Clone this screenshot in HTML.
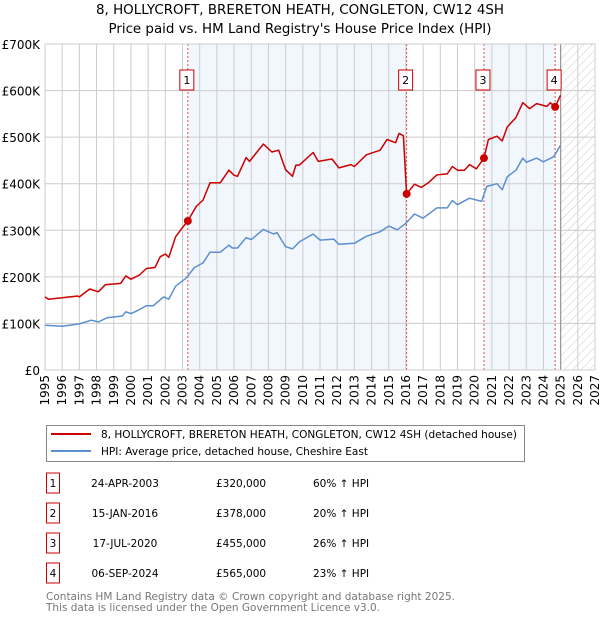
<!DOCTYPE html>
<html><head><meta charset="utf-8">
<style>
body{margin:0;background:#fff;font-family:"Liberation Sans","DejaVu Sans",sans-serif;}
#wrap{position:relative;width:600px;height:620px;overflow:hidden;}
</style></head><body>
<div id="wrap">
<svg id="chart" width="600" height="620" xmlns="http://www.w3.org/2000/svg">
<text x="300" y="14" text-anchor="middle" font-size="13" textLength="408" lengthAdjust="spacingAndGlyphs" font-family="DejaVu Sans, sans-serif">8, HOLLYCROFT, BRERETON HEATH, CONGLETON, CW12 4SH</text>
<text x="300" y="33" text-anchor="middle" font-size="13" textLength="383" lengthAdjust="spacingAndGlyphs" font-family="DejaVu Sans, sans-serif">Price paid vs. HM Land Registry's House Price Index (HPI)</text>
<defs><pattern id="hatch" width="6" height="6" patternUnits="userSpaceOnUse" patternTransform="rotate(45)"><line x1="0" y1="0" x2="0" y2="6" stroke="#ccc" stroke-width="1"/></pattern></defs>
<g id="plot"></g>
<rect x="46.5" y="425.5" width="478" height="36" fill="#fff" stroke="#888"/>
<line x1="51" y1="434" x2="91" y2="434" stroke="#cc0000" stroke-width="2"/>
<text x="101" y="438" font-size="10.5" textLength="416" lengthAdjust="spacingAndGlyphs" font-family="DejaVu Sans, sans-serif">8, HOLLYCROFT, BRERETON HEATH, CONGLETON, CW12 4SH (detached house)</text>
<line x1="51" y1="451" x2="91" y2="451" stroke="#5b8fd0" stroke-width="2"/>
<text x="101" y="455" font-size="10.5" textLength="267" lengthAdjust="spacingAndGlyphs" font-family="DejaVu Sans, sans-serif">HPI: Average price, detached house, Cheshire East</text>
<g id="table" font-size="10.5" font-family="DejaVu Sans, sans-serif"></g>
<text x="46" y="600" font-size="10.5" textLength="409" lengthAdjust="spacingAndGlyphs" fill="#777" font-family="DejaVu Sans, sans-serif">Contains HM Land Registry data © Crown copyright and database right 2025.</text>
<text x="46" y="611" font-size="10.5" textLength="334" lengthAdjust="spacingAndGlyphs" fill="#777" font-family="DejaVu Sans, sans-serif">This data is licensed under the Open Government Licence v3.0.</text>
</svg>
</div>
<script>
const yTicks=[0,100,200,300,400,500,600,700];
const yTickLabels=["£0","£100K","£200K","£300K","£400K","£500K","£600K","£700K"];
const xYears=[1995,1996,1997,1998,1999,2000,2001,2002,2003,2004,2005,2006,2007,2008,2009,2010,2011,2012,2013,2014,2015,2016,2017,2018,2019,2020,2021,2022,2023,2024,2025,2026,2027];
const saleDates=[2003.31,2016.04,2020.54,2024.68];
const saleValues=[320,378,455,565];
const saleLabels=["1","2","3","4"];
const saleDateText=["24-APR-2003","15-JAN-2016","17-JUL-2020","06-SEP-2024"];
const salePriceText=["£320,000","£378,000","£455,000","£565,000"];
const saleHpiText=["60% ↑ HPI","20% ↑ HPI","26% ↑ HPI","23% ↑ HPI"];
const hpiYears=[1995,1996,1997,1997.7,1998.1,1998.6,1999.5,1999.7,2000,2000.4,2000.9,2001.3,2001.9,2002.2,2002.6,2003.2,2003.7,2004.2,2004.6,2005.2,2005.7,2005.9,2006.2,2006.7,2007,2007.7,2008.3,2008.5,2009,2009.4,2009.8,2010.6,2011,2011.8,2012.1,2013,2013.7,2014.5,2015,2015.5,2016,2016.5,2017,2017.8,2018.4,2018.7,2019,2019.7,2020.4,2020.7,2021.3,2021.6,2021.9,2022.4,2022.8,2023,2023.6,2024,2024.6,2025];
const hpiValues=[96,94,99,107,103,112,116,125,121,128,138,138,157,152,180,197,220,230,253,253,268,262,262,284,280,302,292,295,265,260,275,292,279,281,270,272,287,297,309,301,315,335,326,348,348,364,355,369,362,394,400,387,415,429,455,446,455,447,458,483];
const propYears=[1995,1995.2,1996,1996.9,1997,1997.6,1998.1,1998.5,1999.4,1999.7,2000,2000.5,2000.9,2001.4,2001.7,2002,2002.2,2002.6,2003,2003.31,2003.8,2004.2,2004.6,2005.2,2005.7,2006,2006.2,2006.7,2006.9,2007.7,2008.2,2008.6,2009,2009.4,2009.6,2009.8,2010.6,2010.9,2011.7,2012.1,2012.8,2013,2013.7,2014.5,2014.9,2015.4,2015.6,2015.85,2016.04,2016.5,2016.9,2017.3,2017.8,2018.4,2018.7,2019,2019.4,2019.7,2020.1,2020.54,2020.8,2021.3,2021.6,2021.9,2022.4,2022.8,2023.2,2023.6,2024.2,2024.4,2024.68,2025];
const propValues=[157,152,155,159,157,174,168,183,186,202,195,204,218,220,243,249,242,286,306,320,351,365,402,402,429,418,416,456,448,485,468,472,430,416,440,440,467,448,453,434,441,437,462,472,495,488,508,503,378,399,392,402,419,421,437,429,429,441,432,455,495,502,492,522,542,574,561,572,566,574,565,590];

const NS="http://www.w3.org/2000/svg";
const X0=45,X1=595,Y0=370,Y1=44;
const xs=y=>X0+(y-1995)/(2027-1995)*(X1-X0);
const ys=v=>Y0-v/700*(Y0-Y1);
const plot=document.getElementById('plot');
function mk(tag,attrs,parent){const e=document.createElementNS(NS,tag);for(const k in attrs)e.setAttribute(k,attrs[k]);(parent||plot).appendChild(e);return e;}
for(let i=0;i<saleDates.length;i++){
  const end=i+1<saleDates.length?saleDates[i+1]:2025;
  if(i%2===0){const r=mk('rect',{x:xs(saleDates[i]),y:Y1,width:xs(end)-xs(saleDates[i]),height:Y0-Y1,fill:'#eef3fc',opacity:0.75});
  
  }
}
const h=mk('rect',{x:xs(2025),y:Y1,width:X1-xs(2025),height:Y0-Y1,fill:'url(#hatch)'});


yTicks.forEach((v,i)=>{
  const l=mk('line',{x1:X0,x2:X1,y1:ys(v),y2:ys(v),stroke:'#ccc','stroke-width':1});
  
  
  const t=mk('text',{x:40,y:ys(v)+5,'text-anchor':'end','font-size':12,'font-family':'DejaVu Sans, sans-serif'});
  t.textContent=yTickLabels[i];
  
  
});
xYears.forEach(yr=>{
  const l=mk('line',{x1:xs(yr),x2:xs(yr),y1:Y1,y2:Y0,stroke:'#ccc','stroke-width':1});
  
  
  const t=mk('text',{x:0,y:0,'text-anchor':'end','font-size':12,'font-family':'DejaVu Sans, sans-serif',transform:`translate(${xs(yr)+4},375) rotate(-90)`});
  t.textContent=yr;
  
  
});
const vb=mk('line',{x1:xs(2025),x2:xs(2025),y1:Y1,y2:Y0,stroke:'#999','stroke-width':1.2});


saleDates.forEach((d,i)=>{
  const l=mk('line',{x1:xs(d),x2:xs(d),y1:Y1,y2:Y0,stroke:'#e05050','stroke-width':1,'stroke-dasharray':'2,2'});
  
  
  const b=mk('rect',{x:xs(d)-8,y:70,width:14,height:20,fill:'#fff',stroke:'#cc0000','stroke-width':1});
  
  
  const t=mk('text',{x:xs(d)-1,y:84,'text-anchor':'middle','font-size':11,'font-family':'DejaVu Sans, sans-serif'});
  t.textContent=saleLabels[i];
  
  
});
const border=mk('rect',{x:X0,y:Y1,width:X1-X0,height:Y0-Y1,fill:'none',stroke:'#ccc'});


function line(xa,va,color,name){
  const p=mk('polyline',{points:xa.map((x,i)=>xs(x).toFixed(1)+','+ys(va[i]).toFixed(1)).join(' '),fill:'none',stroke:color,'stroke-width':1.5,'stroke-linejoin':'round'});
  
  
}
line(hpiYears,hpiValues,'#5b8fd0','hpi-line');
line(propYears,propValues,'#cc0000','property-price-line');
saleDates.forEach((d,i)=>{
  const c=mk('circle',{cx:xs(d),cy:ys(saleValues[i]),r:4,fill:'#cc0000'});
  
  
});
const tb=document.getElementById('table');
saleDates.forEach((d,i)=>{
  const y=483+i*30;
  const r=mk('rect',{x:46.5,y:y-10,width:13,height:20,fill:'#fff',stroke:'#cc0000'},tb);
  
  
  const cols=[[53,saleLabels[i],'middle','table-row-number'],[125,saleDateText[i],'middle','table-row-date'],[216,salePriceText[i],'start','table-row-price'],[313,saleHpiText[i],'start','table-row-hpi']];
  cols.forEach(c=>{
    const t=mk('text',{x:c[0],y:y+4,'text-anchor':c[2]},tb);
    t.textContent=c[1];
    
    
  });
});
</script>
</body></html>
